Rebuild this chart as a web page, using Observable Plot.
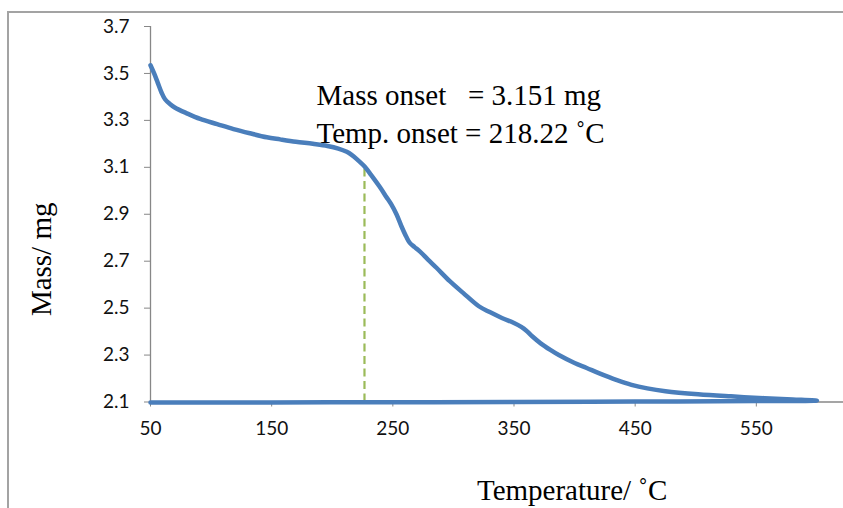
<!DOCTYPE html>
<html><head><meta charset="utf-8">
<script src="https://cdn.jsdelivr.net/npm/d3@7"></script>
<script src="https://cdn.jsdelivr.net/npm/@observablehq/plot@0.6"></script>
<style>
html,body{margin:0;padding:0;background:#fff;overflow:hidden;width:843px;height:508px;}
#wrap{position:relative;width:843px;height:508px;overflow:hidden;}
#border{position:absolute;left:7px;top:11px;width:900px;height:600px;border-left:2px solid #a3a3a3;border-top:2px solid #a3a3a3;pointer-events:none;}
svg text{white-space:pre;}
</style></head><body><div id="wrap"><div id="border"></div></div>
<script>
// TGA curve: heating (mass loss) then return along baseline
const temperature = [50, 53, 56, 59, 62, 66, 70, 80, 91, 105, 118.5, 132, 146, 157, 170, 184, 196, 205, 212, 216, 220, 226.7, 232, 239, 244.5, 248.6, 253, 257, 261, 264, 268, 272, 279, 286, 297, 308, 321, 330, 340, 350, 356, 360, 365, 372, 380, 387, 400, 410, 420, 435, 447, 460, 475, 502, 529, 557, 580, 600,
  550, 450, 350, 250, 150, 50];
const mass = [3.535, 3.50, 3.46, 3.42, 3.39, 3.37, 3.355, 3.33, 3.306, 3.284, 3.263, 3.245, 3.228, 3.219, 3.209, 3.200, 3.191, 3.180, 3.166, 3.153, 3.136, 3.103, 3.068, 3.018, 2.975, 2.943, 2.900, 2.850, 2.805, 2.778, 2.760, 2.743, 2.707, 2.672, 2.615, 2.565, 2.508, 2.483, 2.458, 2.437, 2.420, 2.405, 2.380, 2.350, 2.322, 2.300, 2.266, 2.245, 2.223, 2.193, 2.173, 2.158, 2.146, 2.133, 2.124, 2.116, 2.111, 2.106,
  2.104, 2.102, 2.100, 2.099, 2.098, 2.098];

const xTicks = [50, 150, 250, 350, 450, 550];
const yTicks = [2.1, 2.3, 2.5, 2.7, 2.9, 3.1, 3.3, 3.5, 3.7];

const onsetLineTemp = [226.6];
const onsetLineTop = [3.109];

const annotationText = ["Mass onset   = 3.151 mg", "Temp. onset = 218.22 \u02DAC"];
const annotationTemp = [187, 187];
const annotationMass = [3.405, 3.2425];

const xTitle = ["Temperature/ \u02DAC"];
const xTitleTemp = [398];
const xTitleMass = [1.722];
const yTitle = ["Mass/ mg"];
const yTitleTemp = [-40];
const yTitleMass = [2.708];

const data = temperature.map((t, i) => ({t, m: mass[i]}));
const serif = "'Liberation Serif', 'Times New Roman', serif";
const sans = "Lato, 'Liberation Sans', sans-serif";
const axisGray = "#878787";

const chart = Plot.plot({
  width: 843,
  height: 508,
  marginLeft: 150,
  marginTop: 26,
  marginBottom: 106.5,
  marginRight: 0,
  x: {domain: [50, 650], range: [150, 877]},
  y: {domain: [2.1, 3.7]},
  style: {background: "transparent", color: "#000", overflow: "hidden"},
  marks: [
    Plot.ruleX([50], {y1: 2.1, y2: 3.7, stroke: axisGray, strokeWidth: 1.3}),
    Plot.ruleY([2.1], {x1: 50, x2: 650, stroke: axisGray, strokeWidth: 1.3}),
    Plot.axisX({ticks: xTicks, tickSize: 5, tickPadding: 14, fontSize: 19, fontFamily: sans, stroke: axisGray, fill: "#111", tickFormat: d => String(d), label: null}),
    Plot.axisY({ticks: yTicks, tickSize: 6, tickPadding: 15, fontSize: 19, fontFamily: sans, stroke: axisGray, fill: "#111", tickFormat: d => d.toFixed(1), label: null}),
    Plot.ruleX(onsetLineTemp, {x: d => d, y1: 2.1, y2: onsetLineTop[0], stroke: "#9BBB59", strokeWidth: 2.2, strokeDasharray: "8,4.5"}),
    Plot.line(data, {x: "t", y: "m", stroke: "#4A7EBB", strokeWidth: 4.5, curve: "catmull-rom", strokeLinecap: "round", strokeLinejoin: "round"}),
    Plot.text(annotationText, {x: (d, i) => annotationTemp[i], y: (d, i) => annotationMass[i], text: d => d, textAnchor: "start", lineAnchor: "middle", fontFamily: serif, fontSize: 29, fill: "#000"}),
    Plot.text(xTitle, {x: () => xTitleTemp[0], y: () => xTitleMass[0], text: d => d, textAnchor: "middle", lineAnchor: "middle", fontFamily: serif, fontSize: 29, fill: "#000"}),
    Plot.text(yTitle, {x: () => yTitleTemp[0], y: () => yTitleMass[0], text: d => d, rotate: -90, textAnchor: "middle", lineAnchor: "middle", fontFamily: serif, fontSize: 29, fill: "#000"})
  ]
});
document.getElementById("wrap").prepend(chart);
</script>
</body></html>
